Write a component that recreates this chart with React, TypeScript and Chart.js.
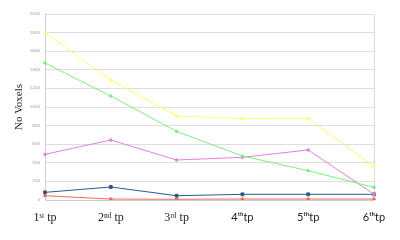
import React, { useEffect, useRef } from "react";
import { Chart, registerables } from "chart.js";

Chart.register(...registerables);

const categories = ["1ˢᵗ tp", "2ⁿᵈ tp", "3ʳᵈ tp", "4ᵗʰtp", "5ᵗʰtp", "6ᵗʰtp"];
const yellowSeries = [1800, 1290, 903, 874, 878, 358];
const greenSeries = [1473, 1118, 738, 473, 315, 136];
const magentaSeries = [491, 645, 430, 459, 538, 62];
const blueSeries = [82, 140, 46, 61, 61, 61];
const redSeries = [46, 10, 8, 10, 10, 10];
const yTicks = [0, 200, 400, 600, 800, 1000, 1200, 1400, 1600, 1800, 2000];

export default function App() {
  const ref = useRef<HTMLCanvasElement | null>(null);
  useEffect(() => {
    if (!ref.current) return;
    const mk = (data: number[], color: string, pointStyle: string = "circle", r = 1.3) => ({
      data,
      borderColor: color,
      backgroundColor: color,
      borderWidth: 1,
      pointRadius: r,
      pointStyle,
      tension: 0,
    });
    const chart = new Chart(ref.current, {
      type: "line",
      data: {
        labels: categories,
        datasets: [
          mk(yellowSeries, "#ffff70"),
          mk(greenSeries, "#7eee7e"),
          mk(magentaSeries, "#e27fe2"),
          mk(blueSeries, "#2a5a8c", "rect", 2),
          mk(redSeries, "#f06a55"),
        ],
      },
      options: {
        animation: false,
        responsive: false,
        layout: { padding: { left: 0, right: 26, top: 14, bottom: 0 } },
        plugins: { legend: { display: false }, tooltip: { enabled: false } },
        scales: {
          x: {
            offset: false,
            grid: {
              drawTicks: false,
              color: (c: any) => (c.index === 5 ? "#dcdcdc" : "rgba(0,0,0,0)"),
            },
            border: { display: true, color: "#d0d0d0" },
            ticks: {
              padding: 11,
              color: "#222",
              font: (c: any) =>
                c.index < 3
                  ? { family: "Liberation Serif", size: 12 }
                  : { family: "Lato", size: 11 },
            },
            afterFit: (s: any) => {
              s.height = 40;
            },
          },
          y: {
            min: 0,
            max: 2000,
            afterBuildTicks: (s: any) => {
              s.ticks = yTicks.map((v) => ({ value: v }));
            },
            grid: { drawTicks: false, color: "#dedede" },
            border: { display: true, color: "#cfcfcf" },
            ticks: {
              padding: 5,
              color: "#999",
              font: { family: "DejaVu Sans", size: 4 },
              callback: (v: any) => String(v),
            },
            title: {
              display: true,
              text: "No Voxels",
              color: "#222",
              font: { family: "Liberation Serif", size: 11 },
              padding: { top: 13, bottom: 0 },
            },
            afterFit: (s: any) => {
              s.width = 45;
            },
          },
        },
      },
    });
    return () => chart.destroy();
  }, []);
  return (
    <div style={{ position: "fixed", left: 0, top: 0, width: 400, height: 240, background: "#fff" }}>
      <canvas ref={ref} width={400} height={240} style={{ width: 400, height: 240 }} />
    </div>
  );
}
